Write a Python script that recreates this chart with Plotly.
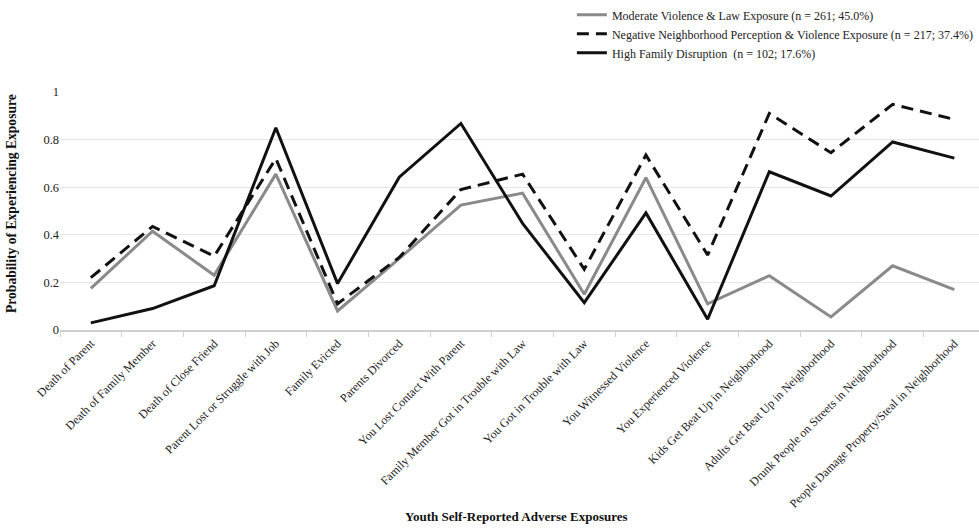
import plotly.graph_objects as go

categories = [
    "Death of Parent",
    "Death of Family Member",
    "Death of Close Friend",
    "Parent Lost or Struggle with Job",
    "Family Evicted",
    "Parents Divorced",
    "You Lost Contact With Parent",
    "Family Member Got in Trouble with Law",
    "You Got in Trouble with Law",
    "You Witnessed Violence",
    "You Experienced Violence",
    "Kids Get Beat Up in Neighborhood",
    "Adults Get Beat Up in Neighborhood",
    "Drunk People on Streets in Neighborhood",
    "People Damage Property/Steal in Neighborhood",
]

moderate = [0.175, 0.415, 0.23, 0.655, 0.08, 0.30, 0.525, 0.575, 0.15, 0.64, 0.11, 0.228, 0.055, 0.27, 0.17]
negative = [0.22, 0.435, 0.31, 0.72, 0.11, 0.305, 0.59, 0.655, 0.255, 0.735, 0.315, 0.91, 0.745, 0.948, 0.885]
family = [0.03, 0.09, 0.186, 0.85, 0.195, 0.642, 0.868, 0.448, 0.115, 0.492, 0.045, 0.665, 0.563, 0.79, 0.722]

series_names = [
    "Moderate Violence &amp; Law Exposure (n = 261; 45.0%)",
    "Negative Neighborhood Perception &amp; Violence Exposure (n = 217; 37.4%)",
    "High Family Disruption  (n = 102; 17.6%)",
]

FONT = "Liberation Serif, Times New Roman, serif"

fig = go.Figure()
fig.add_trace(go.Scatter(x=categories, y=moderate, mode="lines", name=series_names[0],
                         line=dict(color="#8a8a8a", width=3)))
fig.add_trace(go.Scatter(x=categories, y=negative, mode="lines", name=series_names[1],
                         line=dict(color="#111111", width=3, dash="12px,7px")))
fig.add_trace(go.Scatter(x=categories, y=family, mode="lines", name=series_names[2],
                         line=dict(color="#111111", width=3)))

fig.update_layout(
    width=979, height=529,
    margin=dict(l=60, r=0, t=92, b=199, autoexpand=False),
    paper_bgcolor="white", plot_bgcolor="white",
    font=dict(family=FONT, size=12, color="#222222"),
    showlegend=True,
    legend=dict(x=0.557, xanchor="left", y=1.385, yanchor="top",
                font=dict(family=FONT, size=12, color="#222222"),
                bgcolor="rgba(0,0,0,0)", tracegroupgap=0),
    xaxis=dict(
        type="category", range=[-0.5, 14.4],
        tickson="boundaries", ticks="outside", ticklen=5, tickcolor="#d0d0d0",
        showgrid=False, showline=True, linecolor="#d0d0d0", linewidth=1.5,
        tickangle=-45, tickfont=dict(family=FONT, size=12, color="#222222"),
        zeroline=False,
    ),
    yaxis=dict(
        range=[0, 1], tickvals=[0, 0.2, 0.4, 0.6, 0.8, 1],
        ticktext=["0", "0.2", "0.4", "0.6", "0.8", "1"],
        showgrid=True, gridcolor="#e6e6e6", gridwidth=1,
        showline=False, zeroline=False, ticks="",
        tickfont=dict(family=FONT, size=12.5, color="#222222"),
    ),
    annotations=[
        dict(text="<b>Probability of Experiencing Exposure</b>", textangle=-90,
             xref="paper", yref="paper", x=-0.052, y=0.53, xanchor="center", yanchor="middle",
             showarrow=False, font=dict(family=FONT, size=13.6, color="#111111")),
        dict(text="<b>Youth Self-Reported Adverse Exposures</b>",
             xref="paper", yref="paper", x=0.497, y=-0.785, xanchor="center", yanchor="middle",
             showarrow=False, font=dict(family=FONT, size=13, color="#111111")),
    ],
)

fig.write_html("out.html")
